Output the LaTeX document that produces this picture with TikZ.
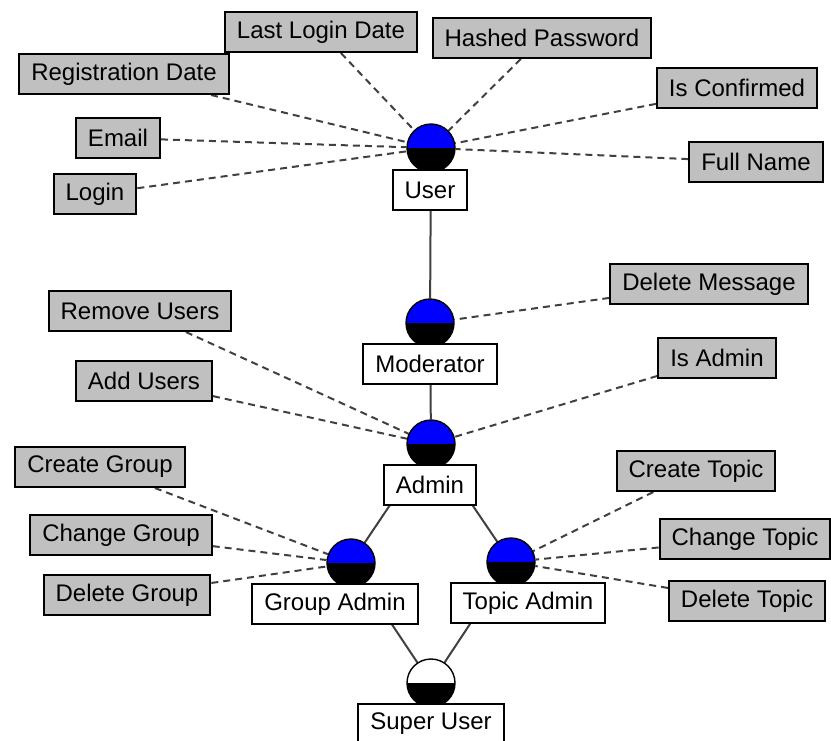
\documentclass[tikz,border=0pt]{standalone}
\usepackage{fontspec}
\setmainfont{Liberation Sans}
\usetikzlibrary{backgrounds}
\definecolor{attrgray}{RGB}{192,192,192}
\definecolor{linkgray}{RGB}{64,64,64}
\begin{document}
\begin{tikzpicture}[x=0.5pt, y=-0.5pt,
    attr/.style={draw, line width=1pt, fill=attrgray, rectangle, minimum height=20pt, inner xsep=6pt, inner ysep=0pt, font=\fontsize{12}{14}\selectfont},
    role/.style={attr, fill=white},
    perm/.style={circle, draw, line width=0.7pt, fill=blue, minimum size=24pt, inner sep=0pt, path picture={\fill[black] (path picture bounding box.west) rectangle (path picture bounding box.south east);}},
    has/.style={draw=linkgray, line width=1pt, dash pattern=on 3.5pt off 2.5pt},
    isa/.style={draw=linkgray, line width=1pt}]
  \useasboundingbox (0,0) rectangle (831,740);
  \node[attr] (lastlogin) at (321,32) {Last Login Date};
  \node[attr] (regdate) at (124,74) {Registration Date};
  \node[attr] (email) at (118,138) {Email};
  \node[attr] (login) at (95,194) {Login};
  \node[attr] (hashpw) at (542,38) {Hashed Password};
  \node[attr] (confirmed) at (737,88) {Is Confirmed};
  \node[attr] (fullname) at (756,162) {Full Name};
  \node[perm] (user) at (431,148) {}; \node[role] (userlbl) at (430,190) {User};
  \node[attr] (delmsg) at (709,284) {Delete Message};
  \node[perm] (moderator) at (430,323) {}; \node[role] (moderatorlbl) at (430,364) {Moderator};
  \node[attr] (removeusers) at (140,311) {Remove Users};
  \node[attr] (addusers) at (144,381) {Add Users};
  \node[attr] (isadmin) at (717,358) {Is Admin};
  \node[perm] (admin) at (431,444) {}; \node[role] (adminlbl) at (430,485) {Admin};
  \node[attr] (creategroup) at (100,467) {Create Group};
  \node[attr] (changegroup) at (121,535) {Change Group};
  \node[attr] (deletegroup) at (127,595) {Delete Group};
  \node[perm] (groupadmin) at (351,563) {}; \node[role] (groupadminlbl) at (335,604) {Group Admin};
  \node[attr] (createtopic) at (696,471) {Create Topic};
  \node[attr] (changetopic) at (745,539) {Change Topic};
  \node[attr] (deletetopic) at (747,601) {Delete Topic};
  \node[perm] (topicadmin) at (511,562) {}; \node[role] (topicadminlbl) at (528,603) {Topic Admin};
  \node[perm, fill=white] (superuser) at (431,683) {}; \node[role] (superuserlbl) at (431,724) {Super User};
  \begin{pgfonlayer}{background}
    \draw[has] (lastlogin) -- (user); \draw[has] (regdate) -- (user); \draw[has] (email) -- (user); \draw[has] (login) -- (user);
    \draw[has] (hashpw) -- (user); \draw[has] (confirmed) -- (user); \draw[has] (fullname) -- (user);
    \draw[has] (delmsg) -- (moderator);
    \draw[has] (removeusers) -- (admin); \draw[has] (addusers) -- (admin); \draw[has] (isadmin) -- (admin);
    \draw[has] (creategroup) -- (groupadmin); \draw[has] (changegroup) -- (groupadmin); \draw[has] (deletegroup) -- (groupadmin);
    \draw[has] (createtopic) -- (topicadmin); \draw[has] (changetopic) -- (topicadmin); \draw[has] (deletetopic) -- (topicadmin);
    \draw[isa] (user) -- (moderator); \draw[isa] (moderator) -- (admin);
    \draw[isa] (admin) -- (groupadmin); \draw[isa] (admin) -- (topicadmin);
    \draw[isa] (groupadmin) -- (superuser); \draw[isa] (topicadmin) -- (superuser);
  \end{pgfonlayer}
\end{tikzpicture}
\end{document}
